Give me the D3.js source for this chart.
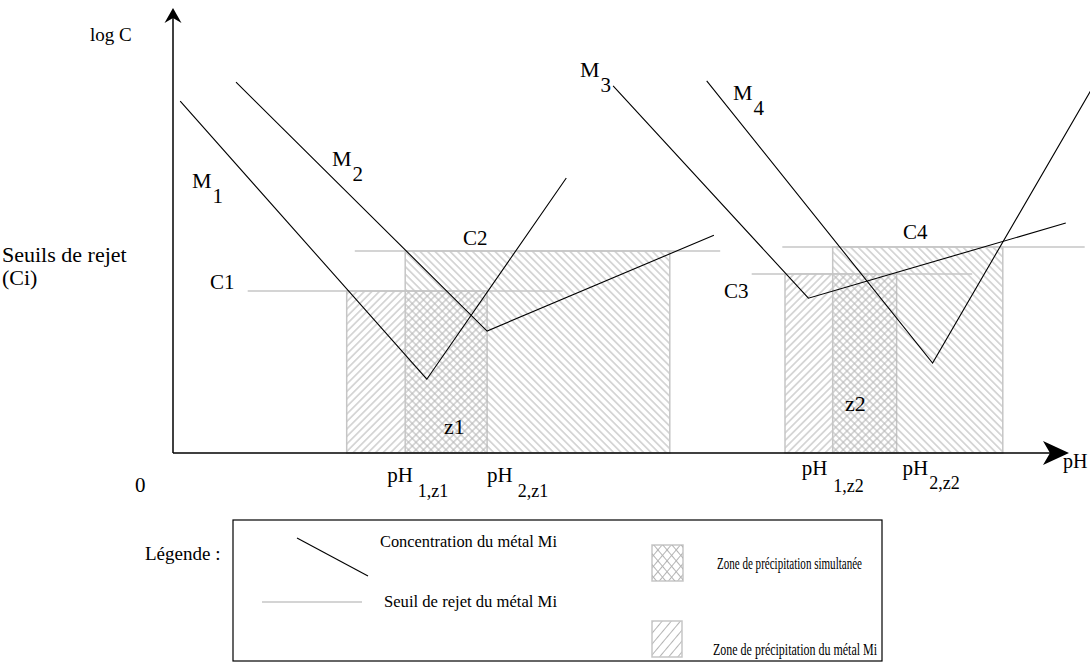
<!DOCTYPE html>
<html>
<head>
<meta charset="utf-8">
<script src="https://cdn.jsdelivr.net/npm/d3@7"></script>
<style>
body { margin: 0; background: #fff; }
svg { display: block; }
text { font-family: "Liberation Serif", "Times New Roman", serif; fill: #000; }
</style>
</head>
<body>
<svg id="chart" width="1090" height="663"></svg>
<script>
// schematic diagram, arbitrary units: pH on x (0-100), log C on y (0-100)
var metals = ["M1", "M2", "M3", "M4"];
// each metal curve = 3 points (start, minimum, end)
var curve_ph   = [[0.8, 28.2, 43.7], [7.0, 34.9, 60.1], [48.9, 70.6, 99.2], [59.3, 84.4, 102.6]];
var curve_logc = [[78.2, 16.4, 61.1], [82.4, 27.1, 48.4], [81.6, 34.4, 51.1], [82.7, 20.0, 82.7]];
// discharge thresholds Ci
var seuil_names = ["C1", "C2", "C3", "C4"];
var seuils      = [36.0, 44.9, 39.8, 45.8];
var seuil_start = [8.3, 20.2, 64.3, 67.7];
var seuil_end   = [43.3, 60.8, 88.8, 101.3];
// precipitation zone of each metal
var zone_start = [19.3, 25.8, 68.0, 73.3];
var zone_end   = [34.9, 55.2, 80.4, 92.2];
var zone_hatch = ["fwd", "back", "fwd", "back"];
// pH limits of the simultaneous zones
var ph_marks = [25.8, 34.9, 73.3, 80.4];
var ph_subs  = ["1,z1", "2,z1", "1,z2", "2,z2"];

var svg = d3.select("#chart");
var x = d3.scaleLinear().domain([0, 100]).range([173, 1073]);
var y = d3.scaleLinear().domain([0, 100]).range([453, 3]);

var grey = "#c6c6c6";
var hatch_col = "#b4b4b4";
var defs = svg.append("defs");

function hatch(id, angle, size){
    var p = defs.append("pattern")
        .attr("id", id)
        .attr("patternUnits", "userSpaceOnUse")
        .attr("width", size)
        .attr("height", size)
        .attr("patternTransform", "rotate(" + angle + ")");
    p.append("line")
        .attr("x1", size/2).attr("y1", 0)
        .attr("x2", size/2).attr("y2", size)
        .attr("stroke", hatch_col)
        .attr("stroke-width", 1);
}
hatch("fwd", 45, 5.3);
hatch("back", -45, 5.3);
hatch("fwd_leg", 40, 7);
hatch("back_leg", -40, 7);

// zones
var zg = svg.append("g");
for (var i = 0; i < metals.length; i++){
    zg.append("rect")
    .attr("x", x(zone_start[i]))
    .attr("y", y(seuils[i]))
    .attr("width", x(zone_end[i]) - x(zone_start[i]))
    .attr("height", y(0) - y(seuils[i]))
    .attr("fill", "url(#" + zone_hatch[i] + ")")
    .attr("stroke", grey)
    .attr("stroke-width", 1.5);
}

// thresholds
svg.append("g").selectAll("line")
    .data(seuils)
    .join("line")
    .attr("x1", function(d, i){ return x(seuil_start[i]); })
    .attr("x2", function(d, i){ return x(seuil_end[i]); })
    .attr("y1", function(d){ return y(d); })
    .attr("y2", function(d){ return y(d); })
    .attr("stroke", grey)
    .attr("stroke-width", 1.5);

// metal curves
var line = d3.line().x(function(d){ return x(d[0]); }).y(function(d){ return y(d[1]); });
svg.append("g").selectAll("path")
    .data(metals)
    .join("path")
    .attr("d", function(d, i){
        return line(curve_ph[i].map(function(v, j){ return [v, curve_logc[i][j]]; }));
    })
    .attr("fill", "none")
    .attr("stroke", "#000")
    .attr("stroke-width", 1.1);

// axes with arrows
svg.append("line").attr("x1", x(0)).attr("y1", y(0)).attr("x2", x(0)).attr("y2", 14)
    .attr("stroke", "#000").attr("stroke-width", 1.5);
svg.append("line").attr("x1", x(0)).attr("y1", y(0)).attr("x2", 1055).attr("y2", y(0))
    .attr("stroke", "#000").attr("stroke-width", 1.5);
svg.append("path").attr("d", "M173,8 L181.5,23 L173,18 L164.5,23 Z").attr("fill", "#000");
svg.append("path").attr("d", "M1069,453 L1043,441 L1050,453 L1043,465 Z").attr("fill", "#000");

function label(px, py, txt, size, sub, dx, dy, subsize){
    var t = svg.append("text").attr("x", px).attr("y", py)
        .style("font-size", size + "px").text(txt);
    if (sub){
        t.append("tspan").attr("dx", dx).attr("dy", dy)
        .style("font-size", subsize + "px").text(sub);
    }
    return t;
}

label(90, 41, "log C", 19);
label(2, 262, "Seuils de rejet", 22);
label(2, 285, "(Ci)", 22);
label(135, 492, "0", 21);
label(1063, 468, "pH", 20);

// metal names
var mpos = [[192, 188], [332, 166], [580, 77], [733, 100]];
for (var i = 0; i < metals.length; i++){
    label(mpos[i][0], mpos[i][1], "M", 22, metals[i].slice(1), 1, 15, 21);
}

// threshold names
var cpos = [[210, 289], [463, 245], [724, 298], [903, 239]];
for (var i = 0; i < seuil_names.length; i++){
    label(cpos[i][0], cpos[i][1], seuil_names[i], 21);
}
label(444, 434, "z1", 22);
label(845, 411, "z2", 22);

// pH limits
var ph_off = [[-18, 482, 5, 15], [0, 482, 5, 15], [-31, 475, 6, 17], [6, 475, 1, 14]];
for (var i = 0; i < ph_marks.length; i++){
    label(x(ph_marks[i]) + ph_off[i][0], ph_off[i][1], "pH", 21, ph_subs[i], ph_off[i][2], ph_off[i][3], 18);
}

// legend
label(145, 560, "Légende :", 19);
svg.append("rect").attr("x", 233).attr("y", 520).attr("width", 649).attr("height", 141)
    .attr("fill", "none").attr("stroke", "#000").attr("stroke-width", 1.2);
svg.append("line").attr("x1", 297).attr("y1", 538).attr("x2", 368).attr("y2", 576)
    .attr("stroke", "#000").attr("stroke-width", 1.1);
svg.append("line").attr("x1", 262).attr("y1", 602).attr("x2", 362).attr("y2", 602)
    .attr("stroke", grey).attr("stroke-width", 1.5);
svg.append("rect").attr("x", 652).attr("y", 545).attr("width", 31).attr("height", 36)
    .attr("fill", "url(#fwd_leg)").attr("stroke", grey).attr("stroke-width", 1.5);
svg.append("rect").attr("x", 652).attr("y", 545).attr("width", 31).attr("height", 36)
    .attr("fill", "url(#back_leg)");
svg.append("rect").attr("x", 652).attr("y", 621).attr("width", 30).attr("height", 36)
    .attr("fill", "url(#fwd_leg)").attr("stroke", grey).attr("stroke-width", 1.5);

var leg_texts = [
    [380, 547, "Concentration du métal Mi", 177],
    [717, 569, "Zone de précipitation simultanée", 145],
    [384, 607, "Seuil de rejet du métal Mi", 173],
    [713, 655, "Zone de précipitation du métal Mi", 164]
];
leg_texts.forEach(function(d){
    label(d[0], d[1], d[2], 16)
    .attr("textLength", d[3])
    .attr("lengthAdjust", "spacingAndGlyphs");
});
</script>
</body>
</html>
